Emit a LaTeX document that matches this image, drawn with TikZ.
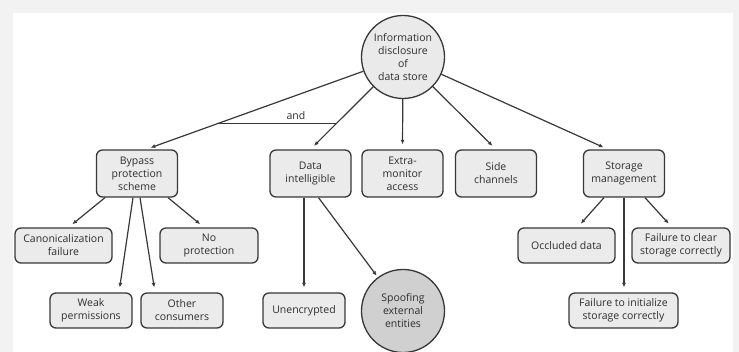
\documentclass[tikz,border=0pt]{standalone}
\usepackage{fontspec}
\setmainfont{Open Sans}
\usetikzlibrary{arrows.meta,calc}
\definecolor{edge}{HTML}{383838}
\definecolor{boxfill}{HTML}{EBEBEB}
\definecolor{rootfill}{HTML}{EAEAEA}
\definecolor{spooffill}{HTML}{D0D0D0}
\definecolor{outer}{HTML}{F2F2F2}
\definecolor{txt}{HTML}{2E2E2E}
\begin{document}
\begin{tikzpicture}[x=1pt,y=-1pt,
  every node/.style={font=\fontsize{10.5}{13}\selectfont, text=txt},
  box/.style={draw=edge, fill=boxfill, rounded corners=6pt, line width=1.3pt, align=center, inner sep=2pt, minimum height=35pt},
  tall/.style={box, minimum width=81pt, minimum height=47pt},
  circ/.style={circle, draw=edge, line width=1.3pt, align=center, minimum size=83pt, inner sep=0pt},
  arr/.style={draw=edge, line width=1.2pt, -{Latex[length=4.5pt,width=4pt]}, shorten >=5pt},
  plain/.style={draw=edge, line width=1.2pt}]
\useasboundingbox (0,0) rectangle (739,352);
\fill[outer] (0,0) rectangle (739,352);
\fill[white] (13,13) rectangle (733,352);

% root
\node[circ, fill=rootfill] (root) at (403,57) {Information\\disclosure\\of\\data store};

% row 1
\node[tall] (bypass) at (137,173.5) {Bypass\\protection\\scheme};
\node[tall] (data) at (310.5,173.5) {Data\\intelligible};
\node[tall] (extra) at (402.5,173.5) {Extra-\\monitor\\access};
\node[tall] (side) at (496,173.5) {Side\\channels};
\node[tall] (storage) at (624,173.5) {Storage\\management};

% row 2
\node[box, minimum width=97pt] (canon) at (63.5,245.5) {Canonicalization\\failure};
\node[box, minimum width=98pt] (noprot) at (209,245.5) {No\\protection};
\node[box, minimum width=97pt] (occl) at (566.5,245.5) {Occluded data};
\node[box, minimum width=98pt] (fclear) at (681,245.5) {Failure to clear\\storage correctly};

% row 3
\node[box, minimum width=82pt] (weak) at (91,310.5) {Weak\\permissions};
\node[box, minimum width=82pt] (other) at (182,310.5) {Other\\consumers};
\node[box, minimum width=82pt] (unenc) at (304,310.5) {Unencrypted};
\node[circ, fill=spooffill] (spoof) at (403,311) {Spoofing\\external\\entities};
\node[box, minimum width=109pt] (finit) at (623.5,310.5) {Failure to initialize\\storage correctly};

% root connectors
\draw[arr] (root) -- ([xshift=9pt]bypass.north);
\draw[arr] (root) -- (data.north);
\draw[arr] (root) -- (extra.north);
\draw[arr] (root) -- (side.north);
\draw[arr] (root) -- ([xshift=-16pt]storage.north);

% and
\coordinate (andL) at ($(root)!0.72!([xshift=9pt]bypass.north)$);
\coordinate (andR) at ($(root)!0.72!(data.north)$);
\draw[plain] (andL) -- (andR);
\node (andlabel) at (296,116) {and};

% bypass children
\draw[arr] ([xshift=-32pt]bypass.south) -- ([xshift=5pt]canon.north);
\draw[arr] ([xshift=31pt]bypass.south) -- ([xshift=-5pt]noprot.north);
\draw[arr] ([xshift=-4pt]bypass.south) -- ([xshift=28pt]weak.north);
\draw[arr] ([xshift=3pt]bypass.south) -- ([xshift=-27pt]other.north);

% data children
\draw[arr] ([xshift=-6.5pt]data.south) -- (unenc.north);
\draw[arr, shorten >=2pt] ([xshift=8pt]data.south) -- (spoof);

% storage children
\draw[arr] ([xshift=-20pt]storage.south) -- ([xshift=11pt]occl.north);
\draw[arr] ([xshift=21pt]storage.south) -- ([xshift=-9pt]fclear.north);
\draw[arr] (storage.south) -- ([xshift=0.5pt]finit.north);
\end{tikzpicture}
\end{document}
